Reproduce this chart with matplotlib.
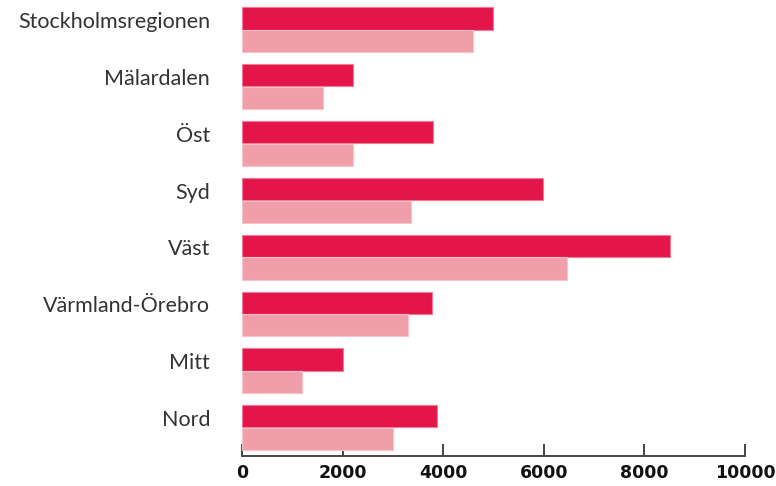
import matplotlib
matplotlib.use("Agg")
import matplotlib.pyplot as plt
import numpy as np

categories = ["Stockholmsregionen", "Mälardalen", "Öst", "Syd", "Väst",
              "Värmland-Örebro", "Mitt", "Nord"]
series_a = [5000, 2200, 3800, 5980, 8500, 3780, 2000, 3880]
series_b = [4600, 1600, 2200, 3350, 6460, 3300, 1200, 3000]
xticks = [0, 2000, 4000, 6000, 8000, 10000]

dark = "#E3154A"
light = "#F09EAA"

fig = plt.figure(figsize=(7.76, 4.86), dpi=100)
ax = fig.add_axes([0.3119, 0.0617, 0.960 - 0.3119, 0.997 - 0.0617])

y = np.arange(len(categories))
h = 0.39
ax.barh(y - h / 2 - 0.005, series_a, height=h, color=dark, edgecolor="#F27A95",
        linewidth=0.8, zorder=3)
ax.barh(y + h / 2 + 0.005, series_b, height=h, color=light, edgecolor="#F7C3CB",
        linewidth=0.8, zorder=3)

ax.set_ylim(7.5, -0.5)
ax.set_xlim(0, 10000)

ax.set_yticks(y - 0.17)
ax.set_yticklabels(categories, fontfamily="Lato", fontweight="normal",
                   fontsize=15.5, color="#333333")
ax.tick_params(axis="y", length=0, pad=23)

ax.set_xticks(xticks)
ax.set_xticklabels([str(v) for v in xticks], fontfamily="DejaVu Sans",
                   fontweight="bold", fontsize=12.5, color="#111111")
ax.tick_params(axis="x", direction="in", length=9, width=1.4, color="#444444",
               pad=6)

for s in ["top", "right", "left"]:
    ax.spines[s].set_visible(False)
ax.spines["bottom"].set_color("#444444")
ax.spines["bottom"].set_linewidth(1.4)

fig.savefig("out.png", dpi=100)
